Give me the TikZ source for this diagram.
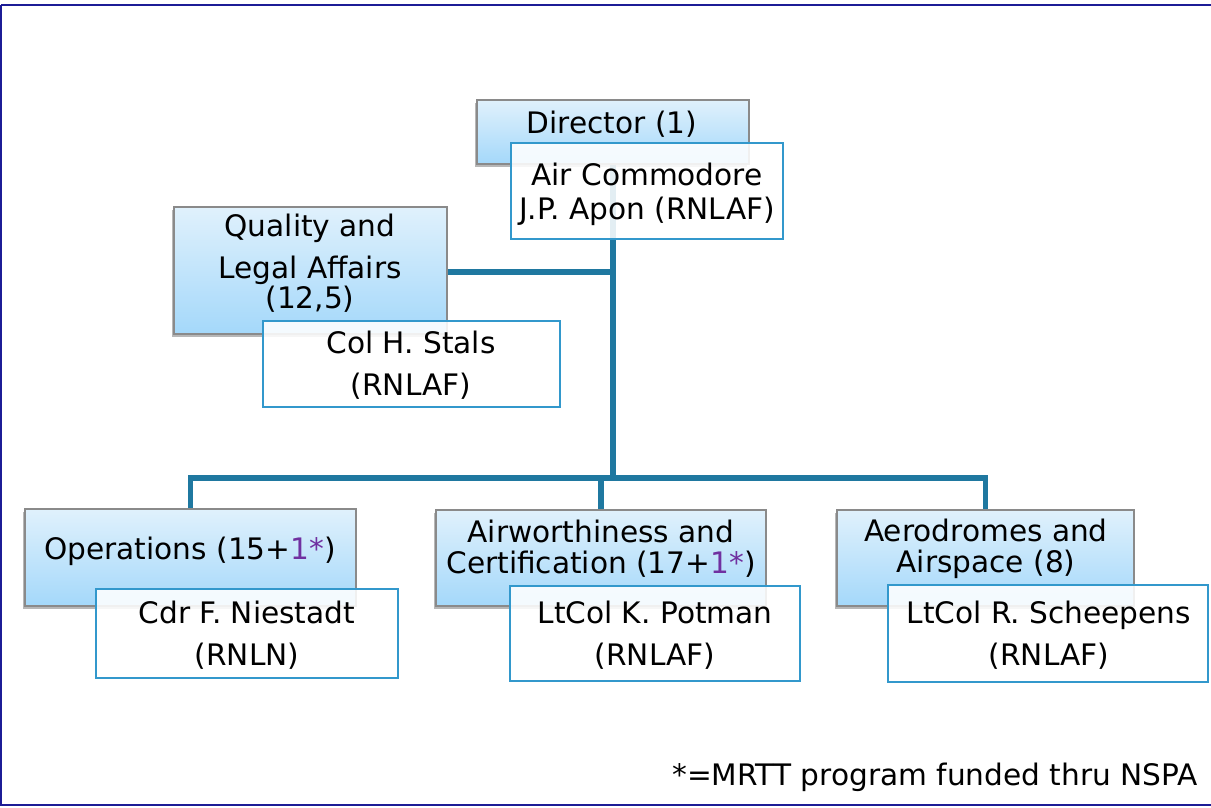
\documentclass[tikz,border=0pt]{standalone}
\usepackage{fontspec}
\setmainfont{DejaVu Sans}
\usetikzlibrary{shadows}
\definecolor{linkc}{RGB}{31,120,160}
\definecolor{framec}{RGB}{28,28,150}
\definecolor{bluetop}{RGB}{224,241,252}
\definecolor{bluebot}{RGB}{164,216,250}
\definecolor{whiteedge}{RGB}{50,152,204}
\definecolor{boxedge}{RGB}{138,138,138}
\definecolor{purp}{RGB}{112,48,160}
\tikzset{
  bluebox/.style={draw=boxedge, line width=0.75pt, top color=bluetop, bottom color=bluebot, inner sep=0pt,
    drop shadow={shadow xshift=-1.2pt, shadow yshift=-1.6pt, opacity=0.4, fill=black!70}},
  namebox/.style={draw=whiteedge, line width=0.85pt, fill=white, fill opacity=0.88, inner sep=0pt},
  lbl/.style={font=\fontsize{14.8}{17}\selectfont, align=center, inner sep=0pt, text=black},
  link/.style={draw=linkc, line width=2.8pt, line join=miter}
}
\begin{document}
\begin{tikzpicture}[x=0.5pt,y=-0.5pt]
\useasboundingbox (0,0) rectangle (1211,808);
% frame
\draw[framec, line width=1.4pt] (1,5) -- (1230,5) (1,5) -- (1,805) -- (1230,805);
% coordinates for connectors
\coordinate (bus) at (613,478);
\coordinate (qj) at (613,272);
% connectors
\draw[link] (613,160) -- (bus);
\draw[link] (446,272) -- (qj);
\draw[link] (190.5,512) |- (bus);
\draw[link] (601,512) |- (bus);
\draw[link] (985.5,512) |- (bus);
% blue boxes
\node[bluebox, minimum width=136pt, minimum height=32pt] (dirb) at (613,132) {};
\node[bluebox, minimum width=136.5pt, minimum height=63.5pt] (qualb) at (310.5,270.5) {};
\node[bluebox, minimum width=165.5pt, minimum height=48.5pt] (opsb) at (190.5,557.5) {};
\node[bluebox, minimum width=165pt, minimum height=48pt] (airb) at (601,558) {};
\node[bluebox, minimum width=148.5pt, minimum height=48pt] (aerob) at (985.5,558) {};
% blue box texts
\node[lbl] (dirt) at (612,124) {Director (1)};
\node[lbl] (qualt) at (310,263) {Quality and\\[4pt]Legal Affairs\\[-2pt](12,5)};
\node[lbl] (opst) at (190,551) {Operations (15+{\color{purp}1*})};
\node[lbl] (airt) at (601,549) {Airworthiness and\\[-1.5pt]Certification (17+{\color{purp}1*})};
\node[lbl] (aerot) at (986,549) {Aerodromes and\\[-1.5pt]Airspace (8)};
% name boxes
\node[namebox, minimum width=136pt, minimum height=48pt] (dirw) at (647,191) {};
\node[namebox, minimum width=148.5pt, minimum height=43pt] (qualw) at (411.5,364) {};
\node[namebox, minimum width=151pt, minimum height=44.5pt] (opsw) at (247,633.5) {};
\node[namebox, minimum width=145pt, minimum height=47.5pt] (airw) at (655,633.5) {};
\node[namebox, minimum width=160pt, minimum height=48.5pt] (aerow) at (1048,633.5) {};
% name texts
\node[lbl] (dirn) at (647,194) {Air Commodore\\J.P. Apon (RNLAF)};
\node[lbl] (qualn) at (411,365) {Col H. Stals\\[4pt](RNLAF)};
\node[lbl] (opsn) at (247,635) {Cdr F. Niestadt\\[4pt](RNLN)};
\node[lbl] (airn) at (655,635) {LtCol K. Potman\\[4pt](RNLAF)};
\node[lbl] (aeron) at (1049,635) {LtCol R. Scheepens\\[4pt](RNLAF)};
% footnote
\node[lbl, anchor=east] (foot) at (1198,777) {*=MRTT program funded thru NSPA};
\end{tikzpicture}
\end{document}
